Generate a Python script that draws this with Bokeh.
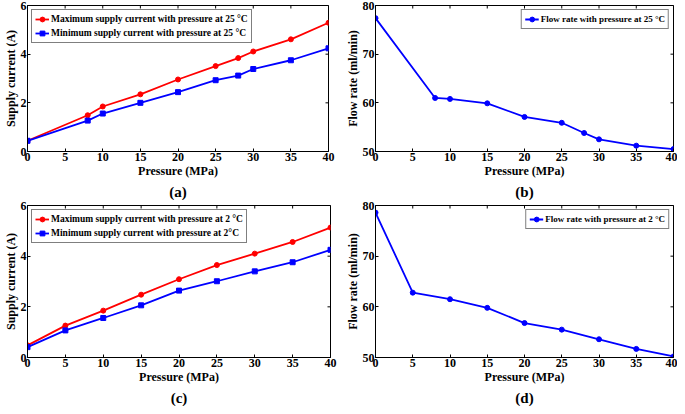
import math
from bokeh.plotting import figure
from bokeh.models import Range1d, Title
from bokeh.layouts import row, column
from bokeh.embed import file_html
from bokeh.resources import INLINE

FONT = "'Liberation Serif', 'Times New Roman', serif"

pressure_25 = [0, 8, 10, 15, 20, 25, 28, 30, 35, 40]
max_current_25 = [0.44, 1.49, 1.85, 2.35, 2.96, 3.51, 3.84, 4.11, 4.61, 5.29]
min_current_25 = [0.44, 1.27, 1.56, 2.00, 2.44, 2.93, 3.12, 3.39, 3.75, 4.24]
flow_25 = [77.4, 61.0, 60.8, 59.9, 57.1, 55.9, 53.8, 52.5, 51.2, 50.5]

pressure_2 = [0, 5, 10, 15, 20, 25, 30, 35, 40]
max_current_2 = [0.48, 1.26, 1.85, 2.48, 3.09, 3.65, 4.10, 4.56, 5.13]
min_current_2 = [0.41, 1.07, 1.56, 2.06, 2.64, 3.01, 3.40, 3.76, 4.25]
flow_2 = [78.6, 62.8, 61.5, 59.8, 56.8, 55.5, 53.6, 51.7, 50.2]

x_ticks = [0, 5, 10, 15, 20, 25, 30, 35, 40]
current_ticks = [0, 2, 4, 6]
flow_ticks = [50, 60, 70, 80]

labels_25 = ["Maximum supply current with pressure at 25 \u00b0C",
             "Minimum supply current with pressure at 25 \u00b0C",
             "Flow rate with pressure at 25 \u00b0C"]
labels_2 = ["Maximum supply current with pressure at 2 \u00b0C",
            "Minimum supply current with pressure at 2\u00b0C",
            "Flow rate with pressure at 2 \u00b0C"]


def make_panel(width, height, borders, yr, yticks, ylabel, tag):
    l, r, t, b = borders
    p = figure(width=width, height=height, x_range=Range1d(0, 40),
               y_range=Range1d(*yr), output_backend="svg",
               toolbar_location=None, min_border_left=l, min_border_right=r,
               min_border_top=t, min_border_bottom=b)
    p.title.visible = False
    p.xgrid.visible = False
    p.ygrid.visible = False
    p.outline_line_color = "black"
    p.outline_line_alpha = 1
    p.outline_line_width = 1
    p.background_fill_color = "white"
    p.border_fill_color = "white"
    p.xaxis.ticker = x_ticks
    p.yaxis.ticker = yticks
    p.xaxis.axis_label = "Pressure (MPa)"
    p.yaxis.axis_label = ylabel
    for ax in (p.xaxis[0], p.yaxis[0]):
        ax.major_label_text_font = FONT
        ax.major_label_text_font_size = "12px"
        ax.major_label_text_font_style = "bold"
        ax.major_label_text_color = "black"
        ax.axis_label_text_font = FONT
        ax.axis_label_text_font_size = "12px"
        ax.axis_label_text_font_style = "bold"
        ax.axis_label_text_color = "black"
        ax.major_tick_in = 3
        ax.major_tick_out = 0
        ax.minor_tick_line_color = None
        ax.axis_line_color = "black"
        ax.major_label_standoff = 1
        ax.axis_label_standoff = 0
    # inner ticks on the right and top edges of the box
    p.scatter([40] * len(yticks), yticks, marker="dash", size=6,
              line_color="black", line_width=1)
    p.scatter(x_ticks, [yr[1]] * len(x_ticks), marker="dash", size=6,
              angle=math.pi / 2, line_color="black", line_width=1)
    tt = Title(text=tag, align="center", text_font=FONT, text_font_size="15px",
               text_font_style="bold", text_color="black", standoff=2)
    p.add_layout(tt, "below")
    return p


def style_legend(p, loc, size="9.5px"):
    lg = p.legend[0]
    lg.location = loc
    lg.margin = 4
    lg.padding = 3
    lg.spacing = 2
    lg.border_line_color = "black"
    lg.border_line_width = 1
    lg.label_text_font = FONT
    lg.label_text_font_size = size
    lg.label_text_font_style = "bold"
    lg.label_text_color = "black"
    lg.label_standoff = 2
    lg.glyph_width = 14
    lg.glyph_height = 12
    lg.label_height = 12
    lg.background_fill_alpha = 1


pa = make_panel(342, 200, (21, 14, 5, 30), (0, 6), current_ticks,
                "Supply current (A)", "(a)")
pa.line(pressure_25, max_current_25, color="red", line_width=1.8, legend_label=labels_25[0])
pa.scatter(pressure_25, max_current_25, color="red", size=5, marker="circle", legend_label=labels_25[0])
pa.line(pressure_25, min_current_25, color="blue", line_width=1.8, legend_label=labels_25[1])
pa.scatter(pressure_25, min_current_25, color="blue", size=5, marker="square", legend_label=labels_25[1])
style_legend(pa, "top_left")

pb = make_panel(335, 200, (26, 4, 5, 30), (50, 80), flow_ticks,
                "Flow rate (ml/min)", "(b)")
pb.line(pressure_25, flow_25, color="blue", line_width=1.8, legend_label=labels_25[2])
pb.scatter(pressure_25, flow_25, color="blue", size=5, marker="circle", legend_label=labels_25[2])
style_legend(pb, "top_right", "9px")

pc = make_panel(342, 206, (23, 12, 5, 30), (0, 6), current_ticks,
                "Supply current (A)", "(c)")
pc.line(pressure_2, max_current_2, color="red", line_width=1.8, legend_label=labels_2[0])
pc.scatter(pressure_2, max_current_2, color="red", size=5, marker="circle", legend_label=labels_2[0])
pc.line(pressure_2, min_current_2, color="blue", line_width=1.8, legend_label=labels_2[1])
pc.scatter(pressure_2, min_current_2, color="blue", size=5, marker="square", legend_label=labels_2[1])
style_legend(pc, "top_left")

pd_ = make_panel(335, 206, (26, 4, 5, 30), (50, 80), flow_ticks,
                 "Flow rate (ml/min)", "(d)")
pd_.line(pressure_2, flow_2, color="blue", line_width=1.8, legend_label=labels_2[2])
pd_.scatter(pressure_2, flow_2, color="blue", size=5, marker="circle", legend_label=labels_2[2])
style_legend(pd_, "top_right", "9px")

layout = column(row(pa, pb), row(pc, pd_))
open("out.html", "w").write(file_html(layout, INLINE))
